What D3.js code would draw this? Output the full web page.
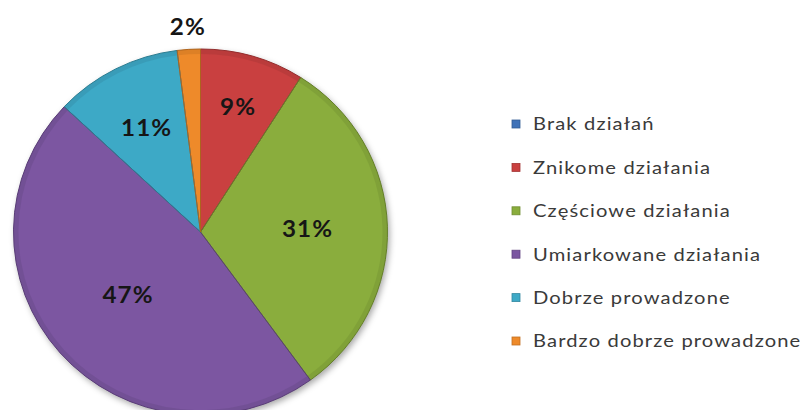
<!DOCTYPE html>
<html>
<head>
<meta charset="utf-8">
<script src="https://cdn.jsdelivr.net/npm/d3@7"></script>
<style>
  body { margin: 0; background: #fff; }
  svg { display: block; }
</style>
</head>
<body>
<svg id="pie-chart" width="807" height="410"></svg>
<script>
// chart data
const categories = ["Brak działań", "Znikome działania", "Częściowe działania",
  "Umiarkowane działania", "Dobrze prowadzone", "Bardzo dobrze prowadzone"];
const shares = [0, 9, 31, 47, 11, 2];
const colors = ["#3f72b8", "#c9403f", "#8aad3c", "#7b56a1", "#3ea9c6", "#ee8a2a"];

const svg = d3.select("#pie-chart");
const cx = 200.5, cy = 232, rx = 187, ry = 183;

// how far out (share of radius) each label sits, as Excel's best fit put them
const labelFit = [0.6, 0.71, 0.57, 0.52, 0.64, 1.12];

const defs = svg.append("defs");
defs.append("filter")
    .attr("id", "shadow")
    .attr("x", "-10%").attr("y", "-10%")
    .attr("width", "125%").attr("height", "125%")
  .append("feDropShadow")
    .attr("dx", 2).attr("dy", 3)
    .attr("stdDeviation", 3)
    .attr("flood-color", "#000")
    .attr("flood-opacity", 0.35);

const pie = d3.pie().sort(null).value(d => d.value);
const arcs = pie(categories.map((c, i) => ({name: c, value: shares[i], color: colors[i], i: i})));
const shown = arcs.filter(d => d.value > 0);

const arc = d3.arc().innerRadius(0).outerRadius(rx);
const edge = d3.arc().innerRadius(rx - 5).outerRadius(rx);

const g = svg.append("g")
    .attr("transform", "translate(" + cx + "," + cy + ") scale(1," + (ry / rx) + ")");

g.append("g")
    .attr("filter", "url(#shadow)")
  .selectAll("path")
  .data(shown)
  .enter().append("path")
    .attr("d", arc)
    .attr("fill", d => d.data.color);

// soft bevel along the rim
g.selectAll(".rim")
  .data(shown)
  .enter().append("path")
    .attr("class", "rim")
    .attr("d", edge)
    .attr("fill", d => d3.color(d.data.color).darker(0.35))
    .attr("opacity", 0.6);

g.selectAll(".outline")
  .data(shown)
  .enter().append("path")
    .attr("class", "outline")
    .attr("d", arc)
    .attr("fill", "none")
    .attr("stroke", d => d3.color(d.data.color).darker(0.9))
    .attr("stroke-width", 1)
    .attr("stroke-linejoin", "round");

// percentage labels (Calibri-like: a touch wider than Lato)
svg.append("g").selectAll("text")
  .data(shown)
  .enter().append("text")
    .attr("transform", d => {
      const a = (d.startAngle + d.endAngle) / 2;
      const k = labelFit[d.data.i];
      return "translate(" + (cx + 0.5 + Math.sin(a) * rx * k) + "," + (cy - Math.cos(a) * ry * k) + ") scale(1.1,1)";
    })
    .attr("text-anchor", "middle")
    .attr("dy", "0.36em")
    .style("font-family", "Lato, 'Open Sans', sans-serif")
    .style("font-weight", "bold")
    .style("font-size", "22px")
    .style("letter-spacing", "1px")
    .style("fill", "#161616")
    .text(d => d.value + "%");

// legend
const y = d3.scalePoint().domain(categories).range([124, 341]);
const legend = svg.append("g").selectAll("g")
  .data(categories)
  .enter().append("g")
    .attr("transform", d => "translate(512," + y(d) + ")");

legend.append("rect")
    .attr("x", 0).attr("y", -4)
    .attr("width", 8).attr("height", 8)
    .attr("fill", (d, i) => colors[i])
    .attr("stroke", (d, i) => d3.color(colors[i]).darker(0.6))
    .attr("stroke-width", 0.8);

legend.append("text")
    .attr("transform", "translate(21,0) scale(1.12,1)")
    .attr("dy", "0.35em")
    .style("font-family", "Lato, 'Open Sans', sans-serif")
    .style("font-size", "18px")
    .style("letter-spacing", "1px")
    .style("fill", "#3a3a3a")
    .text(d => d);
</script>
</body>
</html>
